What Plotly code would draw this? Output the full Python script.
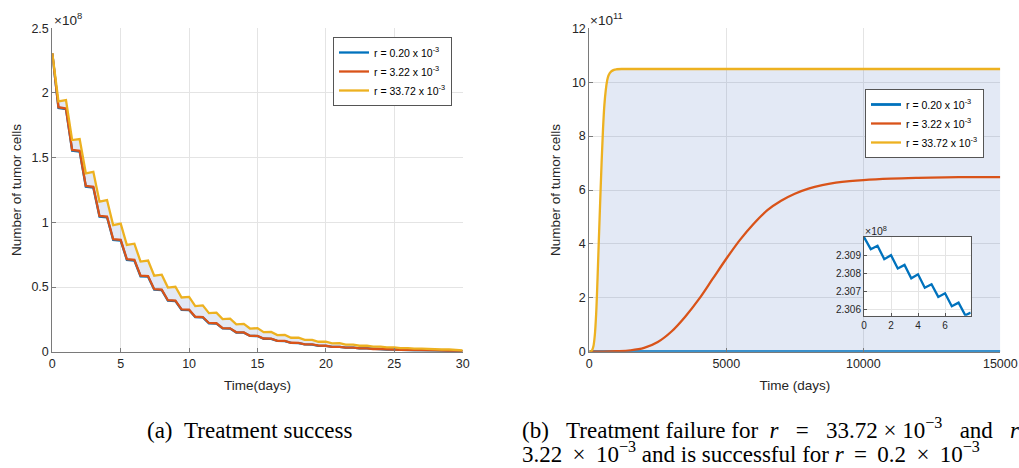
import plotly.graph_objects as go

# ---------------- data: panel (a), values in units of 1e8 ----------------
days = list(range(31))
trough_days = [d + 0.45 for d in range(30)]
yellow_peak = [2.307, 1.945, 1.644, 1.391, 1.172, 0.99, 0.835, 0.705, 0.595, 0.502,
               0.424, 0.358, 0.302, 0.255, 0.215, 0.182, 0.153, 0.129, 0.109, 0.092,
               0.078, 0.066, 0.055, 0.047, 0.040, 0.033, 0.028, 0.024, 0.020, 0.017, 0.010]
yellow_trough = [1.935, 1.636, 1.379, 1.16, 0.978, 0.825, 0.697, 0.588, 0.496, 0.419,
                 0.353, 0.298, 0.252, 0.212, 0.179, 0.151, 0.128, 0.108, 0.091, 0.077,
                 0.065, 0.055, 0.046, 0.039, 0.033, 0.028, 0.023, 0.020, 0.017, 0.014]
red_peak = [2.307, 1.88, 1.553, 1.275, 1.045, 0.865, 0.71, 0.585, 0.48, 0.395,
            0.325, 0.268, 0.22, 0.181, 0.149, 0.122, 0.101, 0.083, 0.068, 0.056,
            0.046, 0.038, 0.031, 0.026, 0.021, 0.017, 0.014, 0.012, 0.0095, 0.0078, 0.004]
red_trough = [1.89, 1.56, 1.282, 1.05, 0.87, 0.715, 0.588, 0.483, 0.398, 0.327,
              0.27, 0.222, 0.182, 0.15, 0.123, 0.102, 0.084, 0.069, 0.057, 0.047,
              0.038, 0.032, 0.026, 0.021, 0.017, 0.014, 0.012, 0.0096, 0.0079, 0.0065]
blue_peak = [2.307, 1.875, 1.547, 1.268, 1.039, 0.859, 0.705, 0.58, 0.476, 0.391,
             0.322, 0.265, 0.217, 0.179, 0.147, 0.121, 0.099, 0.082, 0.067, 0.055,
             0.045, 0.037, 0.031, 0.025, 0.020, 0.017, 0.014, 0.011, 0.0093, 0.0076, 0.004]
blue_trough = [1.884, 1.554, 1.275, 1.044, 0.864, 0.71, 0.583, 0.479, 0.394, 0.324,
               0.267, 0.219, 0.18, 0.148, 0.122, 0.1, 0.083, 0.068, 0.056, 0.046,
               0.037, 0.031, 0.025, 0.021, 0.017, 0.014, 0.011, 0.0094, 0.0077, 0.0063]

# ---------------- data: panel (b), values in units of 1e11 ----------------
yellow_t = [0, 50, 100, 150, 200, 250, 300, 350, 400, 450, 500, 550, 600, 650, 700,
            800, 900, 1000, 1200, 15000]
yellow_v = [0.0, 0.01, 0.05, 0.2, 0.6, 1.4, 2.7, 4.2, 5.65, 7.05, 8.25, 9.15, 9.7,
            10.05, 10.25, 10.4, 10.46, 10.48, 10.49, 10.49]
red_t = [0, 500, 1000, 1500, 2000, 2500, 3000, 3500, 4000, 4500, 5000, 5500, 6000,
         6500, 7000, 7500, 8000, 8500, 9000, 9500, 10000, 11000, 12000, 13000, 14000, 15000]
red_v = [0.0, 0.005, 0.02, 0.05, 0.14, 0.36, 0.75, 1.3, 1.95, 2.7, 3.45, 4.15, 4.75,
         5.25, 5.6, 5.86, 6.05, 6.18, 6.27, 6.33, 6.37, 6.42, 6.45, 6.47, 6.48, 6.48]
blue_t = [0, 5000, 10000, 15000]
blue_v = [0.0023, 0.0015, 0.001, 0.0006]

# inset: blue series for r = 0.20e-3, units of 1e8
inset_t = [0, 0.5, 1, 1.5, 2, 2.5, 3, 3.5, 4, 4.5, 5, 5.5, 6, 6.5, 7, 7.5, 7.9]
inset_v = [2.31000, 2.30933, 2.30952, 2.30878, 2.30900, 2.30826, 2.30846, 2.30772,
           2.30794, 2.30720, 2.30739, 2.30669, 2.30689, 2.30617, 2.30637, 2.30567, 2.30582]

labels = ["r = 0.20 x 10<sup>-3</sup>", "r = 3.22 x 10<sup>-3</sup>", "r = 33.72 x 10<sup>-3</sup>"]
colors = ["#0072BD", "#D95319", "#EDB120"]
FILL = "rgba(70,110,190,0.15)"


def interleave(peaks, troughs):
    t, v = [], []
    for i, d in enumerate(days):
        t.append(d); v.append(peaks[i])
        if i < len(troughs):
            t.append(trough_days[i]); v.append(troughs[i])
    return t, v


lt_b, lv_b = interleave(blue_peak, blue_trough)
lt_r, lv_r = interleave(red_peak, red_trough)
lt_y, lv_y = interleave(yellow_peak, yellow_trough)

fig = go.Figure()
LW = 2.3
# panel (a)
fig.add_trace(go.Scatter(x=lt_b, y=lv_b, mode="lines", line=dict(color=colors[0], width=LW),
                         name=labels[0], xaxis="x", yaxis="y", legend="legend"))
fig.add_trace(go.Scatter(x=lt_y, y=lv_y, mode="lines", line=dict(width=0), fill="tonexty",
                         fillcolor=FILL, showlegend=False, xaxis="x", yaxis="y"))
fig.add_trace(go.Scatter(x=lt_r, y=lv_r, mode="lines", line=dict(color=colors[1], width=LW),
                         name=labels[1], xaxis="x", yaxis="y", legend="legend"))
fig.add_trace(go.Scatter(x=lt_y, y=lv_y, mode="lines", line=dict(color=colors[2], width=LW),
                         name=labels[2], xaxis="x", yaxis="y", legend="legend"))
# panel (b)
fig.add_trace(go.Scatter(x=blue_t, y=blue_v, mode="lines", line=dict(color=colors[0], width=LW + 0.5),
                         name=labels[0], xaxis="x2", yaxis="y2", legend="legend2"))
fig.add_trace(go.Scatter(x=yellow_t, y=yellow_v, mode="lines", line=dict(width=0, shape="spline"),
                         fill="tonexty", fillcolor=FILL, showlegend=False, xaxis="x2", yaxis="y2"))
fig.add_trace(go.Scatter(x=red_t, y=red_v, mode="lines", line=dict(color=colors[1], width=LW, shape="spline"),
                         name=labels[1], xaxis="x2", yaxis="y2", legend="legend2"))
fig.add_trace(go.Scatter(x=yellow_t, y=yellow_v, mode="lines", line=dict(color=colors[2], width=LW, shape="spline"),
                         name=labels[2], xaxis="x2", yaxis="y2", legend="legend2"))
# inset
fig.add_trace(go.Scatter(x=inset_t, y=inset_v, mode="lines", line=dict(color=colors[0], width=LW),
                         showlegend=False, xaxis="x3", yaxis="y3"))

W, H = 1019, 468
def px(x):
    return x / W
def py(y):
    return 1 - y / H

TICKF = dict(family="Liberation Sans, Arial", size=12.5, color="#262626")
TITLEF = dict(family="Liberation Sans, Arial", size=13.5, color="#262626")
GRID = "#e4e4e4"
AX = "#7a7a7a"

common = dict(showgrid=True, gridcolor=GRID, gridwidth=1, showline=True, linecolor=AX,
              linewidth=1, ticks="inside", ticklen=4, tickcolor=AX, zeroline=False,
              tickfont=TICKF, mirror=False, automargin=False, ticklabeloverflow="allow")
ydom = [py(351.7), py(28.3)]
insetax = dict(showgrid=True, gridcolor=GRID, showline=True, linecolor="#555555", mirror=True,
               ticks="inside", ticklen=3, tickcolor="#555555", zeroline=False, automargin=False,
               tickfont=dict(family="Liberation Sans, Arial", size=10, color="#262626"))

fig.update_layout(
    width=W, height=H, margin=dict(l=0, r=0, t=0, b=0, autoexpand=False),
    paper_bgcolor="white", plot_bgcolor="white",
    xaxis=dict(domain=[px(52.3), px(462.7)], range=[0, 30], tickvals=[0, 5, 10, 15, 20, 25, 30],
               anchor="y", title=dict(text="Time(days)", font=TITLEF, standoff=10), **common),
    yaxis=dict(domain=ydom, range=[0, 2.5], tickvals=[0, 0.5, 1, 1.5, 2, 2.5],
               ticktext=["0", "0.5", "1", "1.5", "2", "2.5"], anchor="x",
               title=dict(text="Number of tumor cells", font=TITLEF, standoff=6), **common),
    xaxis2=dict(domain=[px(589.3), px(1000.3)], range=[0, 15000], tickvals=[0, 5000, 10000, 15000],
                ticktext=["0", "5000", "10000", "15000"], anchor="y2",
                title=dict(text="Time (days)", font=TITLEF, standoff=10), **common),
    yaxis2=dict(domain=ydom, range=[0, 12], tickvals=[0, 2, 4, 6, 8, 10, 12], anchor="x2",
                title=dict(text="Number of tumor cells", font=TITLEF, standoff=8), **common),
    xaxis3=dict(domain=[px(864), px(970.7)], range=[0, 7.9], tickvals=[0, 2, 4, 6], anchor="y3",
                **insetax),
    yaxis3=dict(domain=[py(315.7), py(236.7)], range=[2.30565, 2.31002],
                tickvals=[2.306, 2.307, 2.308, 2.309], ticktext=["2.306", "2.307", "2.308", "2.309"],
                anchor="x3", **insetax),
    legend=dict(x=px(333), y=py(37), xanchor="left", yanchor="top", bgcolor="white",
                bordercolor="#555555", borderwidth=1, tracegroupgap=0, traceorder="normal",
                font=dict(family="Liberation Sans, Arial", size=10.5, color="#000000")),
    legend2=dict(x=px(865), y=py(89), xanchor="left", yanchor="top", bgcolor="white",
                 bordercolor="#555555", borderwidth=1, tracegroupgap=0, traceorder="normal",
                 font=dict(family="Liberation Sans, Arial", size=10.5, color="#000000")),
    shapes=[dict(type="rect", xref="x3", yref="y3", x0=0, x1=7.9, y0=2.30565, y1=2.31002,
                 fillcolor="white", line=dict(width=0), layer="below")],
)

ann = []
EXPF = dict(family="Liberation Sans, Arial", size=13.5, color="#262626")
ann.append(dict(text="×10<sup>8</sup>", x=px(52), y=py(19), xref="paper", yref="paper",
                xanchor="left", yanchor="middle", showarrow=False, font=EXPF))
ann.append(dict(text="×10<sup>11</sup>", x=px(588), y=py(19), xref="paper", yref="paper",
                xanchor="left", yanchor="middle", showarrow=False, font=EXPF))
ann.append(dict(text="×10<sup>8</sup>", x=px(863), y=py(230), xref="paper", yref="paper",
                xanchor="left", yanchor="middle", showarrow=False,
                font=dict(family="Liberation Sans, Arial", size=10.5, color="#262626")))
CAPF = dict(family="Liberation Serif, Times New Roman", size=23, color="black")
nb = "\u00a0"
th = "\u2009"
ann.append(dict(text="(a)" + nb * 2 + "Treatment success", x=px(146), y=py(430), xref="paper",
                yref="paper", xanchor="left", yanchor="middle", showarrow=False, font=CAPF,
                borderpad=0))
ann.append(dict(text="(b)" + nb * 3 + "Treatment failure for" + nb * 2 + "<i>r</i>" + nb * 3 + "=" + nb * 3
                + "33.72 × 10<sup>−3</sup>" + nb * 3 + "and" + nb * 3 + "<i>r</i>",
                x=px(521), y=py(428), xref="paper", yref="paper", xanchor="left", yanchor="middle",
                showarrow=False, font=CAPF, borderpad=0))
ann.append(dict(text="3.22" + nb + th + "×" + nb + th + "10<sup>−3</sup>" + nb + "and is successful for <i>r</i>"
                + nb + th + "=" + nb + th + "0.2" + nb + th + "×" + nb + th + "10<sup>−3</sup>",
                x=px(521), y=py(452), xref="paper", yref="paper", xanchor="left", yanchor="middle",
                showarrow=False, font=CAPF, borderpad=0))
fig.update_layout(annotations=ann)

fig.write_html("out.html", config={"displayModeBar": False},
               post_script="document.body.style.margin='0';document.body.style.overflow='hidden';")
